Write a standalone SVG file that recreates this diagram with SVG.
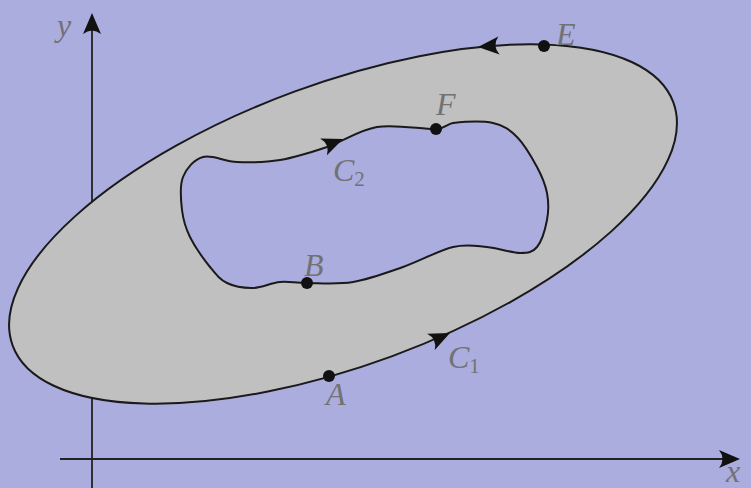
<svg xmlns="http://www.w3.org/2000/svg" width="751" height="488" viewBox="0 0 751 488">
<defs>
<style>
.lbl{font-family:"Liberation Serif","DejaVu Serif",serif;font-style:italic;font-size:32px;fill:#727272;}
.sub{font-size:21px;font-style:normal;}
.curve{stroke:#1a1a1a;stroke-width:2;}
.axis{stroke:#222;stroke-width:1.8;fill:none;}
.dot{fill:#111;}
</style>
<path id="ah" d="M0,0 L-21,-9 Q-14,0 -21,9 Z" fill="#111"/>
</defs>
<rect width="751" height="488" fill="#abaddf"/>
<g id="axes">
<line class="axis" x1="92" y1="488" x2="92" y2="22"/>
<use href="#ah" transform="translate(92,13) rotate(-90)"/>
<line class="axis" x1="60" y1="459" x2="730" y2="459"/>
<use href="#ah" transform="translate(740,459)"/>
<text class="lbl" x="57" y="36" font-size="25">y</text>
<text class="lbl" x="726" y="482" font-size="20">x</text>
</g>
<g id="region">
<ellipse class="curve" cx="343" cy="224" rx="352" ry="141" transform="rotate(-20.2 343 224)" fill="#c0c0c0"/>
<path class="curve" fill="#abaddf" d="M183,177 C186.5,168.2 194,159.5 203,157 C212,154.5 224.2,161.5 237,162 C249.8,162.5 265,162.5 280,160 C295,157.5 310.8,152.5 327,147 C343.2,141.5 358.7,130 377,127 C395.3,124 424.3,129.7 437,129 C445,128.5 447,124 453,123 C462.3,122 482.3,120.7 493,123 C503.7,125.3 509.7,129.7 517,137 C524.3,144.3 532,157.7 537,167 C542,176.3 545.3,184.2 547,193 C548.7,201.8 548.7,211 547,220 C545.3,229 541.5,241.5 537,247 C532.5,252.5 528.3,253 520,253 C511.7,253 498.2,248 487,247 C475.8,246 467,243.7 453,247 C439,250.3 419.7,261.2 403,267 C386.3,272.8 369,279.3 353,282 C337,284.7 319.2,283 307,283 C294.8,283 289,281.2 280,282 C271,282.8 261.8,287.8 253,288 C244.2,288.2 234.2,286.5 227,283 C219.8,279.5 216.2,274.7 210,267 C203.8,259.3 194.7,246.5 190,237 C185.3,227.5 183.2,220 182,210 C180.8,200 179.5,185.8 183,177 Z"/>
</g>
<g id="connectors">
<use href="#ah" transform="translate(478,47) rotate(176)"/>
<use href="#ah" transform="translate(450,333) rotate(-25)"/>
<use href="#ah" transform="translate(343,139) rotate(-22)"/>
</g>
<g id="node-A"><circle class="dot" cx="329" cy="376" r="6"/><text class="lbl" x="326" y="405">A</text></g>
<g id="node-B"><circle class="dot" cx="307" cy="283" r="6"/><text class="lbl" x="304" y="276">B</text></g>
<g id="node-E"><circle class="dot" cx="544" cy="46" r="6"/><text class="lbl" x="556" y="45">E</text></g>
<g id="node-F"><circle class="dot" cx="436" cy="129" r="6"/><text class="lbl" x="436" y="115">F</text></g>
<g id="label-C1"><text class="lbl" x="448" y="368">C<tspan class="sub" dy="5">1</tspan></text></g>
<g id="label-C2"><text class="lbl" x="333" y="181">C<tspan class="sub" dy="5">2</tspan></text></g>
</svg>
